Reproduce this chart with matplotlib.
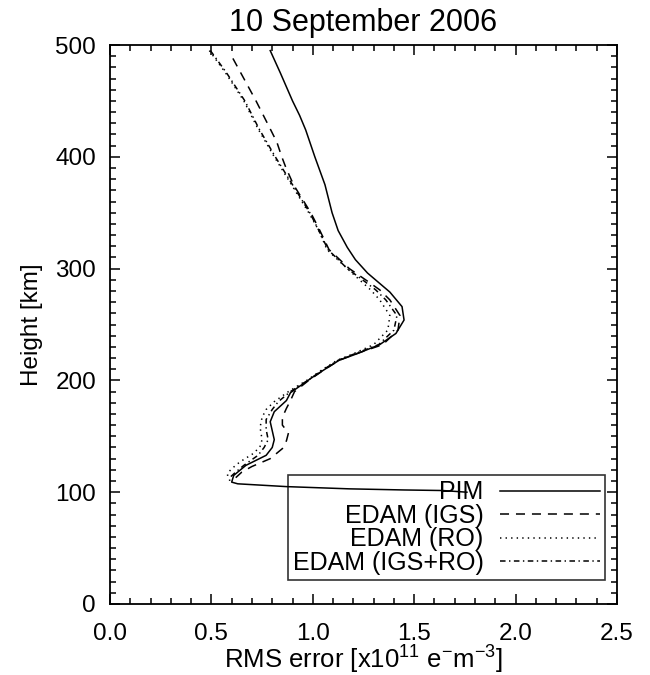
import numpy as np
import matplotlib
matplotlib.use("Agg")
import matplotlib.pyplot as plt
from matplotlib.ticker import MultipleLocator

plt.rcParams["font.family"] = ["Liberation Sans", "DejaVu Sans"]
plt.rcParams["mathtext.fontset"] = "custom"
plt.rcParams["mathtext.rm"] = "Liberation Sans"
plt.rcParams["mathtext.it"] = "Liberation Sans:italic"
plt.rcParams["lines.scale_dashes"] = False

TITLE = "10 September 2006"
XLABEL = r"RMS error [x10$^{11}$ e$^{-}$m$^{-3}$]"
YLABEL = "Height [km]"

# PIM (solid)
h_pim = [495, 475, 450, 437, 424, 400, 375, 350, 334, 319, 308, 296, 279, 266,
         254, 242, 232, 224, 218, 210, 203, 189, 182, 172, 163, 155, 147, 140,
         133, 124, 115, 109, 107.5, 105, 103, 102, 101.5, 100]
x_pim = [0.79, 0.84, 0.90, 0.935, 0.965, 1.01, 1.06, 1.095, 1.125, 1.17, 1.21, 1.27,
         1.38, 1.44, 1.45, 1.41, 1.33, 1.22, 1.13, 1.06, 1.00, 0.89, 0.87, 0.81,
         0.79, 0.80, 0.81, 0.80, 0.77, 0.67, 0.61, 0.60, 0.63, 0.87, 1.18, 1.45,
         1.64, 1.76]

# EDAM (IGS) (dashed)
h_igs = [488, 475, 450, 425, 413, 400, 390, 375, 350, 334, 317, 300, 290, 281,
         272, 258, 245, 232, 223, 218, 210, 200, 190, 182, 175, 167, 160, 153,
         146, 139, 130, 123, 118, 113]
x_igs = [0.606, 0.645, 0.72, 0.79, 0.823, 0.847, 0.868, 0.905, 0.99, 1.035,
         1.08, 1.18, 1.26, 1.33, 1.38, 1.43, 1.42, 1.345, 1.20, 1.13, 1.06,
         0.98, 0.91, 0.89, 0.87, 0.85, 0.85, 0.88, 0.87, 0.85, 0.79, 0.70,
         0.65, 0.62]

# EDAM (RO) (dotted)
h_ro = [495, 475, 450, 425, 400, 375, 350, 334, 317, 300, 290, 281, 272, 258,
        245, 232, 223, 218, 210, 200, 190, 181, 174, 167, 158, 147, 141, 135,
        127, 121, 117, 111]
x_ro = [0.49, 0.57, 0.66, 0.73, 0.81, 0.895, 0.98, 1.03, 1.07, 1.17, 1.23,
        1.285, 1.33, 1.38, 1.37, 1.30, 1.19, 1.12, 1.05, 0.97, 0.88, 0.81,
        0.77, 0.75, 0.74, 0.75, 0.74, 0.71, 0.64, 0.60, 0.58, 0.58]

# EDAM (IGS+RO) (dash-dot)
h_both = [495, 475, 450, 425, 400, 375, 350, 334, 317, 300, 290, 281, 272, 258,
          245, 232, 223, 218, 210, 200, 190, 181, 174, 165, 156, 147, 140, 133,
          124, 118, 113, 108]
x_both = [0.495, 0.575, 0.665, 0.735, 0.815, 0.90, 0.985, 1.03, 1.075, 1.17,
          1.245, 1.31, 1.36, 1.415, 1.40, 1.325, 1.195, 1.125, 1.055, 0.975,
          0.89, 0.83, 0.80, 0.77, 0.77, 0.78, 0.76, 0.73, 0.66, 0.62, 0.59, 0.59]

fig = plt.figure(figsize=(6.5, 6.75), dpi=100)
ax = fig.add_axes([110 / 650, 1 - 604 / 675, 507 / 650, 559 / 675])

lw = 1.1
ax.plot(x_pim, h_pim, color="k", lw=lw, ls="-", label="PIM")
ax.plot(x_igs, h_igs, color="k", lw=lw, ls=(0, (6.5, 5)), label="EDAM (IGS)")
ax.plot(x_ro, h_ro, color="k", lw=lw, ls=(0, (1, 3)), label="EDAM (RO)")
ax.plot(x_both, h_both, color="k", lw=lw, ls=(0, (4, 2.5, 1, 2.5)),
        label="EDAM (IGS+RO)")

ax.set_xlim(0, 2.5)
ax.set_ylim(0, 500)
ax.xaxis.set_major_locator(MultipleLocator(0.5))
ax.xaxis.set_minor_locator(MultipleLocator(0.1))
ax.yaxis.set_major_locator(MultipleLocator(100))
ax.yaxis.set_minor_locator(MultipleLocator(10))
ax.xaxis.set_major_formatter(matplotlib.ticker.FormatStrFormatter("%.1f"))

ax.tick_params(which="both", direction="in", top=True, right=True,
               labelsize=17.5, width=1.1)
ax.tick_params(which="major", length=7.5)
ax.tick_params(which="minor", length=4)
ax.tick_params(axis="x", pad=14)
ax.tick_params(axis="y", pad=10)
for s in ax.spines.values():
    s.set_linewidth(1.3)

ax.set_title(TITLE, fontsize=22, pad=10)
ax.set_xlabel(XLABEL, fontsize=18.5, labelpad=-1)
ax.set_ylabel(YLABEL, fontsize=17.5, labelpad=9)

leg = ax.legend(loc="lower right", bbox_to_anchor=(0.976, 0.043),
                borderaxespad=0, markerfirst=False, frameon=True,
                fancybox=False, edgecolor="k", fontsize=18,
                handlelength=4.0, handletextpad=0.65, labelspacing=-0.02,
                borderpad=0.2)
leg.get_frame().set_facecolor("none")
leg.get_frame().set_linewidth(1.2)
for t in leg.get_texts():
    t.set_ha("right")

fig.savefig("out.png", dpi=100)
